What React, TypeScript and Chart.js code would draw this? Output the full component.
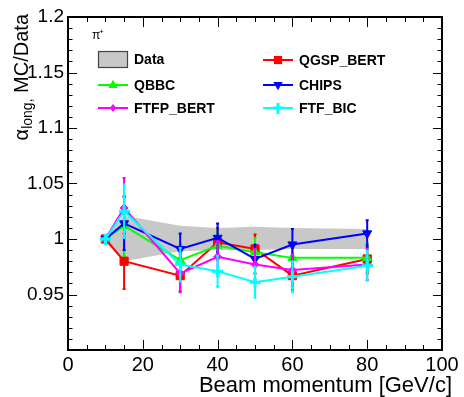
import React, { useEffect, useRef } from "react";
import { Chart, registerables } from "chart.js";

Chart.register(...registerables);

const momenta = [10, 15, 30, 40, 50, 60, 80];
const dataUpper = [1.003, 1.021, 1.012, 1.010, 1.011, 1.010, 1.009];
const dataLower = [0.997, 0.980, 0.989, 0.990, 0.990, 0.991, 0.991];

const qgspBert = [1.0, 0.980, 0.967, 0.997, 0.991, 0.967, 0.982];
const qgspBertErr = [0.003, 0.025, 0.014, 0.013, 0.013, 0.013, 0.013];
const qbbc = [1.0, 1.012, 0.981, 0.994, 0.988, 0.983, 0.983];
const qbbcErr = [0.003, 0.027, 0.014, 0.013, 0.013, 0.013, 0.013];
const chips = [1.0, 1.014, 0.991, 1.001, 0.982, 0.995, 1.005];
const chipsErr = [0.003, 0.024, 0.014, 0.013, 0.013, 0.014, 0.012];
const ftfpBert = [1.0, 1.028, 0.969, 0.984, 0.977, 0.972, 0.977];
const ftfpBertErr = [0.003, 0.027, 0.017, 0.014, 0.014, 0.014, 0.014];
const ftfBic = [1.0, 1.025, 0.977, 0.971, 0.961, 0.966, 0.976];
const ftfBicErr = [0.003, 0.024, 0.015, 0.014, 0.014, 0.014, 0.0135];

const xTickLabels = ["0", "20", "40", "60", "80", "100"];
const yTickLabels = ["", "0.95", "1", "1.05", "1.1", "1.15", "1.2"];

const FONT = "'Liberation Sans', Arial, Helvetica, sans-serif";

function makePlus(color: string): HTMLCanvasElement {
  const c = document.createElement("canvas");
  c.width = 11;
  c.height = 11;
  const g = c.getContext("2d")!;
  g.fillStyle = color;
  g.fillRect(4, 0, 3, 11);
  g.fillRect(0, 4, 11, 3);
  return c;
}

type Series = {
  label: string;
  values: number[];
  errs: number[];
  color: string;
  style: any;
  radius: number;
  rotation: number;
};

export default function App() {
  const ref = useRef<HTMLCanvasElement>(null);

  useEffect(() => {
    const plus = makePlus("#00ffff");
    const series: Series[] = [
      { label: "QGSP_BERT", values: qgspBert, errs: qgspBertErr, color: "#ff0000", style: "rect", radius: 5.8, rotation: 0 },
      { label: "QBBC", values: qbbc, errs: qbbcErr, color: "#00ff00", style: "triangle", radius: 5.2, rotation: 0 },
      { label: "CHIPS", values: chips, errs: chipsErr, color: "#0000ff", style: "triangle", radius: 5.2, rotation: 180 },
      { label: "FTFP_BERT", values: ftfpBert, errs: ftfpBertErr, color: "#ff00ff", style: "rectRot", radius: 4, rotation: 0 },
      { label: "FTF_BIC", values: ftfBic, errs: ftfBicErr, color: "#00ffff", style: plus, radius: 5, rotation: 0 },
    ];

    const datasets: any[] = [
      {
        label: "DataUpper",
        data: momenta.map((x, i) => ({ x, y: dataUpper[i] })),
        borderWidth: 0,
        borderColor: "rgba(0,0,0,0)",
        pointRadius: 0,
        fill: false,
        order: 20,
      },
      {
        label: "Data",
        data: momenta.map((x, i) => ({ x, y: dataLower[i] })),
        borderWidth: 0,
        borderColor: "rgba(0,0,0,0)",
        backgroundColor: "#c8c8c8",
        pointRadius: 0,
        fill: "-1",
        order: 19,
      },
      ...series.map((s, k) => ({
        label: s.label,
        data: momenta.map((x, i) => ({ x, y: s.values[i] })),
        borderColor: s.color,
        backgroundColor: s.color,
        borderWidth: 2,
        pointStyle: s.style,
        pointRadius: s.radius,
        pointRotation: s.rotation,
        pointBorderWidth: 1,
        fill: false,
        tension: 0,
        errs: s.errs,
        order: 10 - k,
      })),
    ];

    const errorBars = {
      id: "errorBars",
      afterDatasetDraw(chart: any, args: any) {
        const ds = chart.data.datasets[args.index];
        if (!ds.errs) return;
        const ctx = chart.ctx;
        const xs = chart.scales.x;
        const ys = chart.scales.y;
        ctx.save();
        ctx.strokeStyle = ds.borderColor;
        ctx.lineWidth = 2;
        ds.data.forEach((p: any, i: number) => {
          const e = ds.errs[i];
          const px = xs.getPixelForValue(p.x);
          const y1 = ys.getPixelForValue(p.y + e);
          const y2 = ys.getPixelForValue(p.y - e);
          ctx.beginPath();
          ctx.moveTo(px, y1);
          ctx.lineTo(px, y2);
          ctx.moveTo(px - 1.5, y1);
          ctx.lineTo(px + 1.5, y1);
          ctx.moveTo(px - 1.5, y2);
          ctx.lineTo(px + 1.5, y2);
          ctx.stroke();
        });
        ctx.restore();
      },
    };

    const drawMarker = (ctx: CanvasRenderingContext2D, s: Series, x: number, y: number) => {
      ctx.fillStyle = s.color;
      if (s.style === "rect") {
        const h = s.radius * Math.SQRT1_2;
        ctx.fillRect(x - h, y - h, 2 * h, 2 * h);
      } else if (s.style === "triangle") {
        const r = s.radius;
        ctx.beginPath();
        if (s.rotation === 180) {
          ctx.moveTo(x, y + r);
          ctx.lineTo(x - r * 0.9, y - r * 0.6);
          ctx.lineTo(x + r * 0.9, y - r * 0.6);
        } else {
          ctx.moveTo(x, y - r);
          ctx.lineTo(x - r * 0.9, y + r * 0.6);
          ctx.lineTo(x + r * 0.9, y + r * 0.6);
        }
        ctx.closePath();
        ctx.fill();
      } else if (s.style === "rectRot") {
        const r = s.radius;
        ctx.beginPath();
        ctx.moveTo(x, y - r);
        ctx.lineTo(x + r * 0.8, y);
        ctx.lineTo(x, y + r);
        ctx.lineTo(x - r * 0.8, y);
        ctx.closePath();
        ctx.fill();
      } else {
        ctx.drawImage(s.style, x - 5.5, y - 5.5);
      }
    };

    const frame = {
      id: "frame",
      afterDraw(chart: any) {
        const ctx = chart.ctx;
        const a = chart.chartArea;
        const xs = chart.scales.x;
        const ys = chart.scales.y;
        ctx.save();
        ctx.strokeStyle = "#000";
        ctx.lineWidth = 1;
        ctx.beginPath();
        for (let v = 0; v <= 100; v += 5) {
          const px = Math.round(xs.getPixelForValue(v)) + 0.5;
          const len = v % 20 === 0 ? 10 : 5;
          ctx.moveTo(px, a.bottom);
          ctx.lineTo(px, a.bottom - len);
          ctx.moveTo(px, a.top);
          ctx.lineTo(px, a.top + len);
        }
        for (let k = 90; k <= 120; k += 1) {
          const py = Math.round(ys.getPixelForValue(k / 100)) + 0.5;
          const len = k % 5 === 0 ? 9 : 4.5;
          ctx.moveTo(a.left, py);
          ctx.lineTo(a.left + len, py);
          ctx.moveTo(a.right, py);
          ctx.lineTo(a.right - len, py);
        }
        ctx.stroke();
        ctx.lineWidth = 2;
        ctx.strokeRect(a.left, a.top, a.right - a.left, a.bottom - a.top);

        // axis titles
        ctx.fillStyle = "#000";
        ctx.textAlign = "right";
        ctx.textBaseline = "alphabetic";
        ctx.font = `22px ${FONT}`;
        ctx.fillText("Beam momentum [GeV/c]", 452, 392);

        ctx.save();
        ctx.translate(28, a.top - 3);
        ctx.rotate(-Math.PI / 2);
        ctx.textAlign = "left";
        const main = " MC/Data";
        const alpha = "\u03b1";
        ctx.font = `14px ${FONT}`;
        const subW = ctx.measureText("long,").width;
        ctx.font = `20px ${FONT}`;
        const mainW = ctx.measureText(main).width;
        const aW = ctx.measureText(alpha).width;
        let x0 = -(mainW + subW + aW);
        ctx.fillText(alpha, x0, 0);
        x0 += aW;
        ctx.font = `14px ${FONT}`;
        ctx.fillText("long,", x0, 4);
        x0 += subW;
        ctx.font = `20px ${FONT}`;
        ctx.fillText(main, x0, 0);
        ctx.restore();

        // legend
        ctx.font = `12px ${FONT}`;
        ctx.textAlign = "left";
        ctx.fillText("\u03c0", 92, 39);
        ctx.font = `8px ${FONT}`;
        ctx.fillText("+", 99, 34);

        ctx.fillStyle = "#c8c8c8";
        ctx.fillRect(98, 51, 30, 17);
        ctx.strokeStyle = "#444";
        ctx.lineWidth = 1.2;
        ctx.strokeRect(98.5, 51.5, 29, 16);

        ctx.font = `bold 14px ${FONT}`;
        ctx.textBaseline = "middle";
        ctx.fillStyle = "#000";
        ctx.fillText("Data", 134, 60);

        const pos = [
          [263, 60],
          [98, 85],
          [263, 85],
          [98, 108],
          [263, 108],
        ];
        series.forEach((s, i) => {
          const [lx, ly] = pos[i];
          ctx.strokeStyle = s.color;
          ctx.lineWidth = 2;
          ctx.beginPath();
          ctx.moveTo(lx, ly);
          ctx.lineTo(lx + 30, ly);
          ctx.stroke();
          drawMarker(ctx, s, lx + 15, ly);
          ctx.fillStyle = "#000";
          ctx.fillText(s.label, lx + 36, ly + 1);
        });
        ctx.restore();
      },
    };

    const chart = new Chart(ref.current!, {
      type: "line",
      data: { datasets },
      plugins: [errorBars, frame],
      options: {
        animation: false,
        responsive: false,
        parsing: false,
        layout: { padding: { top: 17, right: 22, left: 0, bottom: 0 } },
        plugins: { legend: { display: false }, tooltip: { enabled: false } },
        scales: {
          x: {
            type: "linear",
            min: 0,
            max: 100,
            grid: { display: false, drawTicks: false },
            border: { display: false },
            afterFit: (s: any) => {
              s.height = 47;
            },
            afterBuildTicks: (s: any) => {
              s.ticks = xTickLabels.map((t) => ({ value: Number(t) }));
            },
            ticks: {
              padding: 3,
              maxRotation: 0,
              autoSkip: false,
              color: "#000",
              font: { family: FONT, size: 20 },
              callback: (v: any) => xTickLabels.find((t) => Number(t) === v) ?? "",
            },
          },
          y: {
            type: "linear",
            min: 0.9,
            max: 1.2,
            grid: { display: false, drawTicks: false },
            border: { display: false },
            afterFit: (s: any) => {
              s.width = 68;
            },
            afterBuildTicks: (s: any) => {
              s.ticks = yTickLabels.map((t, i) => ({ value: 0.9 + i * 0.05 }));
            },
            ticks: {
              padding: 4,
              autoSkip: false,
              color: "#000",
              font: { family: FONT, size: 19 },
              callback: (v: any, i: number) => yTickLabels[i] ?? "",
            },
          },
        },
      } as any,
    });
    return () => chart.destroy();
  }, []);

  return (
    <div style={{ position: "fixed", left: 0, top: 0, width: 464, height: 397, background: "#fff" }}>
      <canvas ref={ref} width={464} height={397} />
    </div>
  );
}
